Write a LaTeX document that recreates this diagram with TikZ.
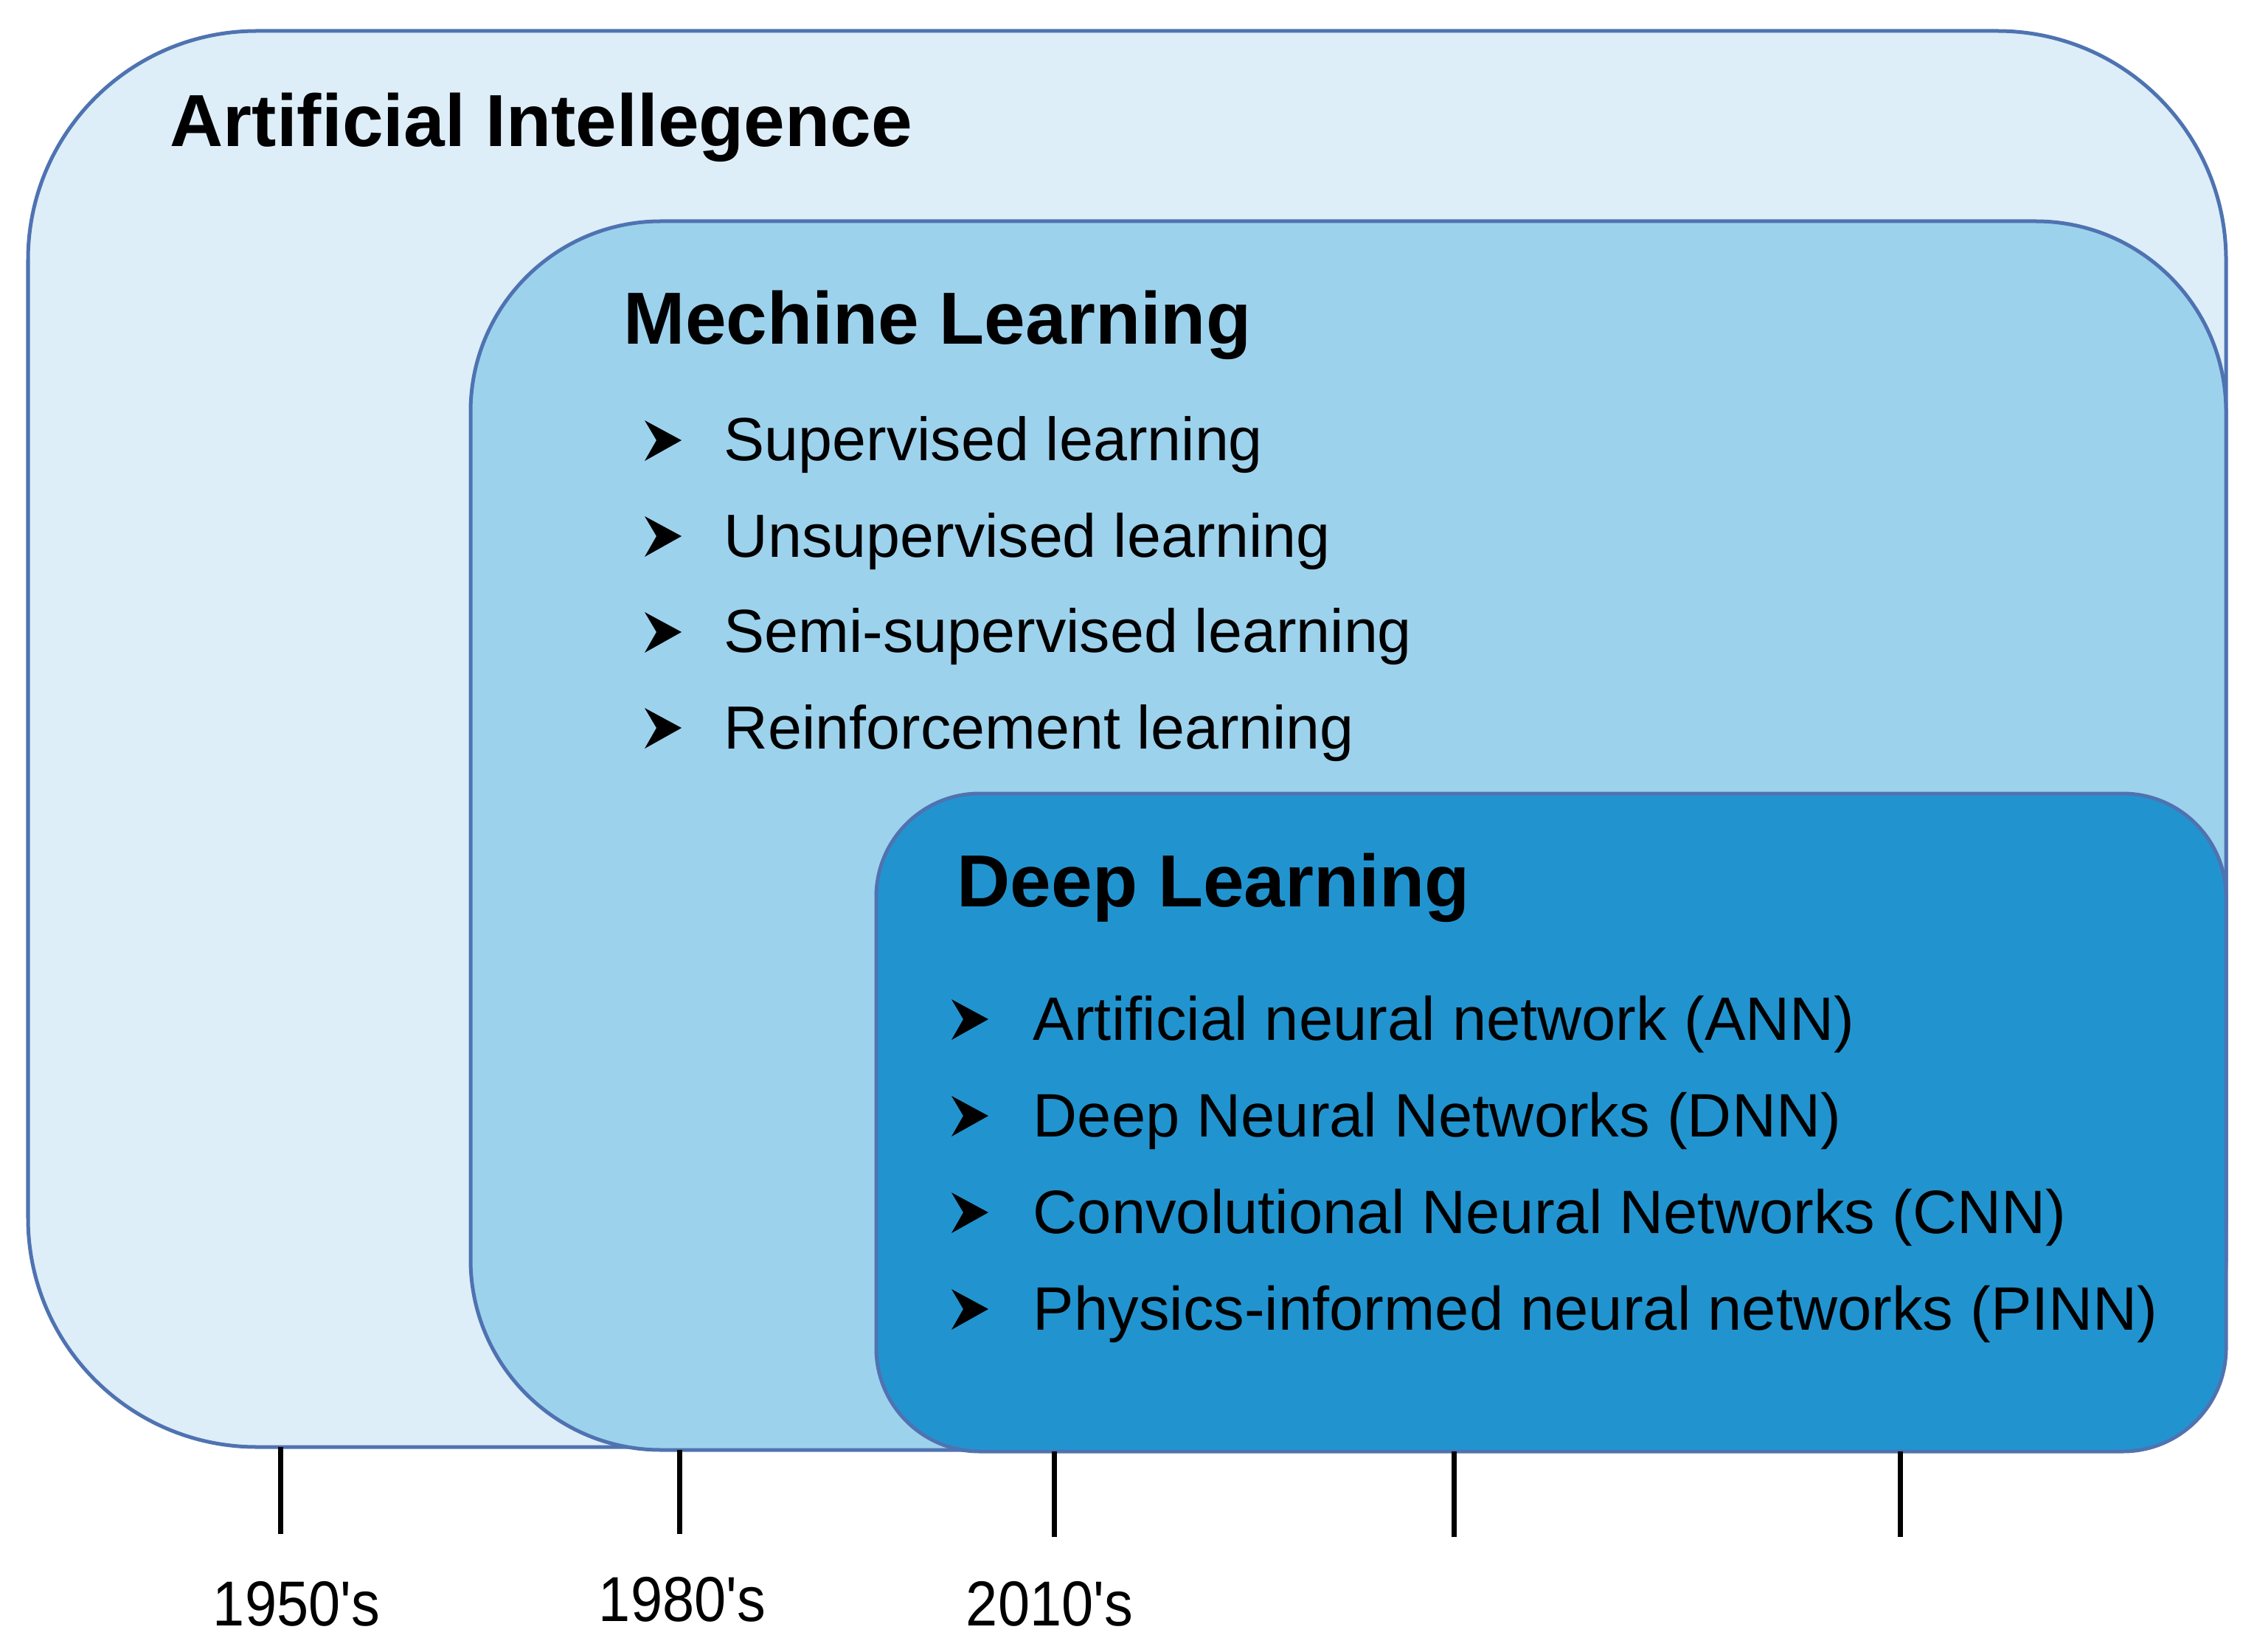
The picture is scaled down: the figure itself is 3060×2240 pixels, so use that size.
\documentclass[tikz,border=0pt]{standalone}
\usepackage{fontspec}
\newfontfamily\arial{Liberation Sans}
\definecolor{bordc}{RGB}{79,115,177}
\definecolor{aifill}{RGB}{221,238,249}
\definecolor{mlfill}{RGB}{157,210,237}
\definecolor{dlfill}{RGB}{33,148,208}
\tikzset{
  frame/.style={draw=bordc, line width=0.05cm},
  title/.style={anchor=base west, inner sep=0pt, font=\arial\bfseries\fontsize{28.45pt}{34pt}\selectfont},
  mlitem/.style={anchor=base west, inner sep=0pt, font=\arial\fontsize{23.5pt}{28pt}\selectfont},
  dlitem/.style={anchor=base west, inner sep=0pt, font=\arial\fontsize{23.65pt}{28pt}\selectfont},
  yearlab/.style={anchor=base, inner sep=0pt, font=\arial\fontsize{24.5pt}{29pt}\selectfont, xscale=0.9},
  tickmark/.style={line width=0.07cm, black},
  bul/.pic={\fill[black] (0,0) -- (50,-28) -- (0,-55) -- (16,-28) -- cycle;}
}
\begin{document}
\begin{tikzpicture}[x=0.01cm, y=-0.01cm]
\useasboundingbox (0,0) rectangle (3060,2240);
% nested boxes
\draw[frame, fill=aifill, rounded corners=3.1cm] (38,42) rectangle (3018,1962);
\draw[frame, fill=mlfill, rounded corners=2.58cm] (638,300) rectangle (3018,1966);
\draw[frame, fill=dlfill, rounded corners=1.4cm] (1188,1076) rectangle (3018,1968);
% titles
\node[title] (ai) at (230,199) {Artificial Intellegence};
\node[title] (ml) at (845,467) {Mechine Learning};
\node[title] (dl) at (1297,1229) {Deep Learning};
% ML items
\foreach \y/\t [count=\i] in {625/Supervised learning, 755/Unsupervised learning, 885/Semi-supervised learning, 1015/Reinforcement learning}{
  \pic at (874,\y) {bul};
  \node[mlitem] (ml\i) at (981,\y) {\t};
}
% DL items
\foreach \y/\t [count=\i] in {1410/Artificial neural network (ANN), 1541/Deep Neural Networks (DNN), 1672/Convolutional Neural Networks (CNN), 1803/Physics-informed neural networks (PINN)}{
  \pic at (1290,\y) {bul};
  \node[dlitem] (dl\i) at (1400,\y) {\t};
}
% timeline ticks
\coordinate (t1a) at (380,1962);  \coordinate (t1b) at (380,2080);
\coordinate (t2a) at (921,1966);  \coordinate (t2b) at (921,2080);
\coordinate (t3a) at (1429,1968); \coordinate (t3b) at (1429,2084);
\coordinate (t4a) at (1971,1968); \coordinate (t4b) at (1971,2084);
\coordinate (t5a) at (2576,1968); \coordinate (t5b) at (2576,2084);
\foreach \k in {1,...,5}{\draw[tickmark] (t\k a) -- (t\k b);}
% year labels
\node[yearlab] (y1) at (402,2204) {1950's};
\node[yearlab] (y2) at (925,2198) {1980's};
\node[yearlab] (y3) at (1423,2204) {2010's};
\end{tikzpicture}
\end{document}
